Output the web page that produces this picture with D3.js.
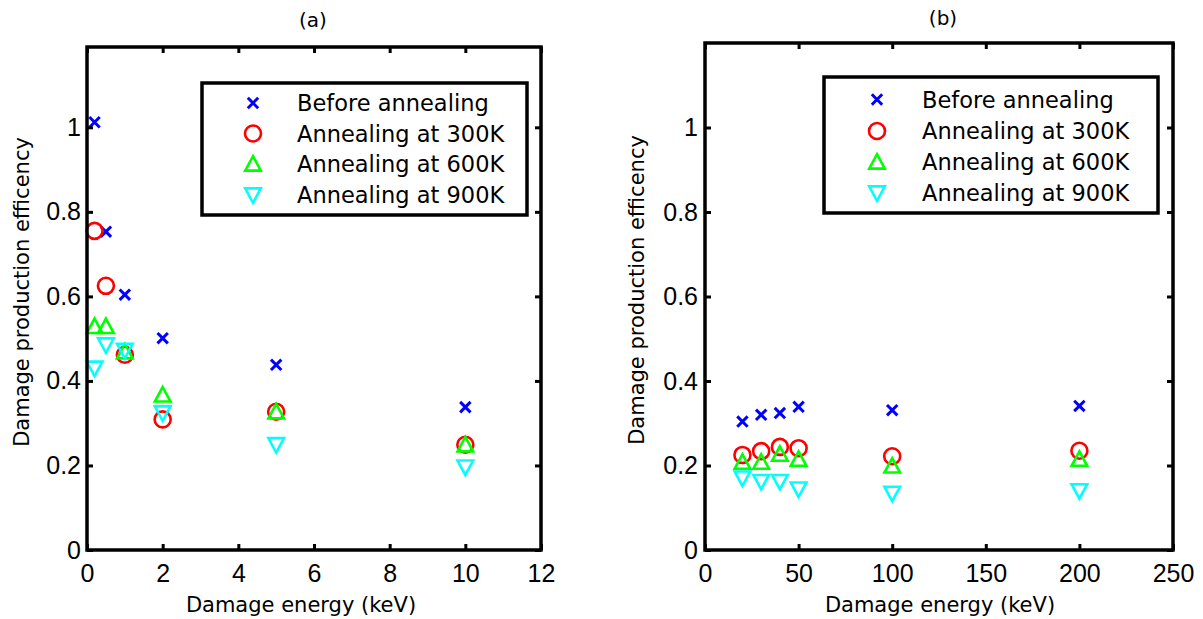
<!DOCTYPE html>
<html>
<head>
<meta charset="utf-8">
<script src="https://cdn.jsdelivr.net/npm/d3@7"></script>
<style>
  html, body { margin: 0; padding: 0; background: #fff; }
  svg { display: block; }
  .jp { font-family: "DejaVu Sans", sans-serif; fill: #000; }
</style>
</head>
<body>
<svg id="chart" width="1203" height="619"></svg>
<script>
// Damage production efficiency vs damage energy, before and after annealing
const seriesNames = ["Before annealing", "Annealing at 300K", "Annealing at 600K", "Annealing at 900K"];
const seriesColors = ["#0000ff", "#ff0000", "#00ff00", "#00ffff"];
const seriesSymbols = ["cross", "circle", "triangleUp", "triangleDown"];

// Panel (a): low energies (keV)
const energyA = [0.2, 0.5, 1, 2, 5, 10];
const beforeA = [1.012, 0.753, 0.604, 0.501, 0.438, 0.338];
const anneal300A = [0.755, 0.625, 0.462, 0.309, 0.327, 0.249];
const anneal600A = [0.529, 0.529, 0.469, 0.367, 0.327, 0.249];
const anneal900A = [0.430, 0.485, 0.472, 0.324, 0.249, 0.196];
const xTicksA = [0, 2, 4, 6, 8, 10, 12];

// Panel (b): high energies (keV)
const energyB = [20, 30, 40, 50, 100, 200];
const beforeB = [0.304, 0.320, 0.324, 0.339, 0.331, 0.341];
const anneal300B = [0.225, 0.234, 0.244, 0.241, 0.222, 0.235];
const anneal600B = [0.208, 0.208, 0.227, 0.215, 0.199, 0.215];
const anneal900B = [0.170, 0.162, 0.162, 0.144, 0.134, 0.140];
const xTicksB = [0, 50, 100, 150, 200, 250];

const yTicks = [0, 0.2, 0.4, 0.6, 0.8, 1];
const xTitle = "Damage energy (keV)";
const yTitle = "Damage production efficency";

const svg = d3.select("#chart");

const panels = [
  { title: "(a)", titleX: 313, titleY: 20,
    box: { left: 87, right: 541, top: 47, bottom: 550 },
    xDomain: [0, 12], yDomain: [0, 1.19], xTicks: xTicksA,
    x: energyA, ys: [beforeA, anneal300A, anneal600A, anneal900A],
    yTitleX: 22, yTitleY: 292, xTitleX: 301, yPad: 6,
    legend: { left: 202, top: 83, right: 527, bottom: 215, markX: 253, textX: 297, rows: [103, 133.5, 164, 195] } },
  { title: "(b)", titleX: 943, titleY: 18,
    box: { left: 705, right: 1173, top: 43, bottom: 550 },
    xDomain: [0, 250], yDomain: [0, 1.2], xTicks: xTicksB,
    x: energyB, ys: [beforeB, anneal300B, anneal600B, anneal900B],
    yTitleX: 637, yTitleY: 290, xTitleX: 940, yPad: 7,
    legend: { left: 824, top: 77, right: 1158, bottom: 213, markX: 877, textX: 922, rows: [99.5, 131, 162, 193] } }
];

// Draw one MATLAB-style marker centred on (0,0)
function drawMarker(g, symbol, color) {
  const sw = 2.6;
  if (symbol === "cross") {
    const s = 5.2;
    g.append("path").attr("d", `M${-s},${-s}L${s},${s}M${-s},${s}L${s},${-s}`)
      .attr("stroke", color).attr("stroke-width", 3).attr("fill", "none");
  } else if (symbol === "circle") {
    g.append("circle").attr("r", 8).attr("stroke", color).attr("stroke-width", sw).attr("fill", "none");
  } else if (symbol === "triangleUp") {
    const w = 7.8, h = 7.8;
    g.append("path").attr("d", `M0,${-h}L${w},${h * 0.85}L${-w},${h * 0.85}Z`)
      .attr("stroke", color).attr("stroke-width", sw).attr("fill", "none").attr("stroke-linejoin", "miter");
  } else {
    const w = 7.8, h = 7.8;
    g.append("path").attr("d", `M0,${h}L${w},${-h * 0.85}L${-w},${-h * 0.85}Z`)
      .attr("stroke", color).attr("stroke-width", sw).attr("fill", "none").attr("stroke-linejoin", "miter");
  }
}

panels.forEach(p => {
  const b = p.box;
  const x = d3.scaleLinear().domain(p.xDomain).range([b.left, b.right]);
  const y = d3.scaleLinear().domain(p.yDomain).range([b.bottom, b.top]);
  const g = svg.append("g");

  // Title
  g.append("text").attr("class", "jp").attr("x", p.titleX).attr("y", p.titleY)
    .attr("text-anchor", "middle").attr("dominant-baseline", "central")
    .style("font-size", "20px").text(p.title);

  // Data markers
  p.ys.forEach((vals, si) => {
    vals.forEach((v, i) => {
      const m = g.append("g").attr("transform", `translate(${x(p.x[i])},${y(v)})`);
      drawMarker(m, seriesSymbols[si], seriesColors[si]);
    });
  });

  // Axes with inward ticks on all four sides
  const tickLen = 6;
  const axB = g.append("g").attr("transform", `translate(0,${b.bottom})`)
    .call(d3.axisBottom(x).tickValues(p.xTicks).tickSize(-tickLen).tickPadding(0).tickFormat(d3.format("d")));
  const axT = g.append("g").attr("transform", `translate(0,${b.top})`)
    .call(d3.axisTop(x).tickValues(p.xTicks).tickSize(-tickLen).tickFormat(""));
  const axL = g.append("g").attr("transform", `translate(${b.left},0)`)
    .call(d3.axisLeft(y).tickValues(yTicks).tickSize(-tickLen).tickPadding(p.yPad)
      .tickFormat(d => d === 0 ? "0" : d === 1 ? "1" : d3.format(".1f")(d)));
  const axR = g.append("g").attr("transform", `translate(${b.right},0)`)
    .call(d3.axisRight(y).tickValues(yTicks).tickSize(-tickLen).tickFormat(""));
  [axB, axT, axL, axR].forEach(a => {
    a.select(".domain").remove();
    a.selectAll(".tick line").attr("stroke", "#000").attr("stroke-width", 3);
    a.selectAll(".tick text")
      .style("font-family", '"Liberation Sans", Arial, sans-serif')
      .style("font-size", "25px").attr("fill", "#000");
  });
  axB.selectAll(".tick text").attr("y", 23).attr("dy", "0.35em");

  // Frame
  g.append("rect").attr("x", x(p.xDomain[0])).attr("y", y(p.yDomain[1]))
    .attr("width", x(p.xDomain[1]) - x(p.xDomain[0]))
    .attr("height", y(p.yDomain[0]) - y(p.yDomain[1]))
    .attr("fill", "none").attr("stroke", "#000").attr("stroke-width", 3.5);

  // Axis titles
  g.append("text").attr("class", "jp").attr("x", p.xTitleX).attr("y", 605)
    .attr("text-anchor", "middle").attr("dominant-baseline", "central")
    .style("font-size", "21px").text(xTitle);
  g.append("text").attr("class", "jp")
    .attr("transform", `translate(${p.yTitleX},${p.yTitleY}) rotate(-90)`)
    .attr("text-anchor", "middle").attr("dominant-baseline", "central")
    .style("font-size", "21px").text(yTitle);

  // Legend
  const L = p.legend;
  g.append("rect").attr("x", L.left).attr("y", L.top)
    .attr("width", L.right - L.left).attr("height", L.bottom - L.top)
    .attr("fill", "#fff").attr("stroke", "#000").attr("stroke-width", 3.5);
  seriesNames.forEach((name, si) => {
    const m = g.append("g").attr("transform", `translate(${L.markX},${L.rows[si]})`);
    drawMarker(m, seriesSymbols[si], seriesColors[si]);
    g.append("text").attr("class", "jp").attr("x", L.textX).attr("y", L.rows[si])
      .attr("dominant-baseline", "central").style("font-size", "22.5px").text(name);
  });
});
</script>
</body>
</html>
